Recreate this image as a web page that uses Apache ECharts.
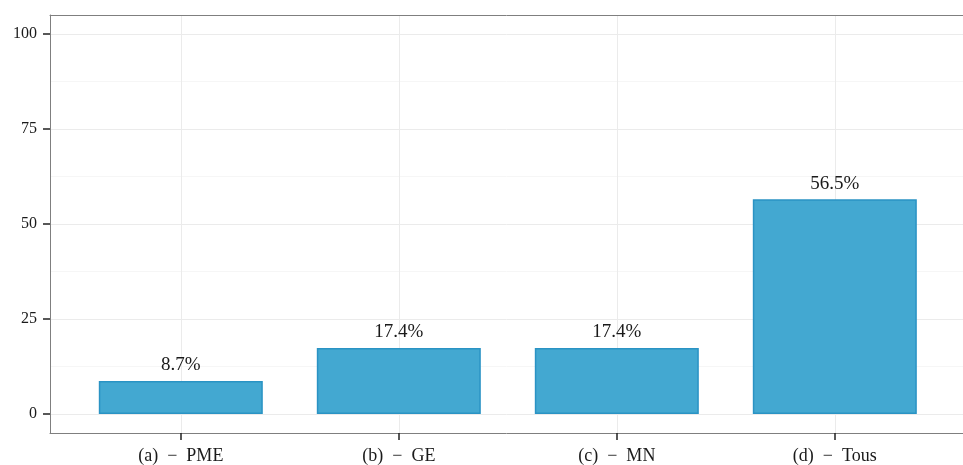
<!DOCTYPE html>
<html>
<head>
<meta charset="utf-8">
<script src="https://cdn.jsdelivr.net/npm/echarts@6/dist/echarts.min.js"></script>
<style>
html,body{margin:0;padding:0;background:#fff;}
#chart{width:963px;height:465px;}
</style>
</head>
<body>
<div id="chart"></div>
<script>
const categories = ['(a)\u2002\u2212\u2002PME', '(b)\u2002\u2212\u2002GE', '(c)\u2002\u2212\u2002MN', '(d)\u2002\u2212\u2002Tous'];
const categoryPositions = [1, 2, 3, 4];
const values = [8.7, 17.4, 17.4, 56.5];
const yTicks = [0, 25, 50, 75, 100];
const yMinorTicks = [12.5, 37.5, 62.5, 87.5];

const FONT = 'Liberation Serif';
const BORDER = '#7f7f7f';
const chart = echarts.init(document.getElementById('chart'), null, {renderer: 'canvas'});
const barData = categoryPositions.map((p, i) => [p, values[i]]);
const X_MIN = 0.4, X_MAX = 4.588;

chart.setOption({
  animation: false,
  backgroundColor: '#ffffff',
  grid: {left: 50, top: 15, right: 0, height: 419, show: false},
  xAxis: [{
    type: 'value', min: X_MIN, max: X_MAX, position: 'bottom',
    axisLine: {show: true, onZero: false, lineStyle: {color: BORDER, width: 1}},
    axisTick: {show: true, customValues: categoryPositions, length: 7, lineStyle: {color: '#222', width: 1.5}},
    axisLabel: {
      customValues: categoryPositions, margin: 14,
      formatter: v => categories[Math.round(v) - 1] || '',
      fontFamily: FONT, fontSize: 18, color: '#1a1a1a'
    },
    splitLine: {show: true, lineStyle: {color: '#ebebeb', width: 1}}
  }, {
    type: 'value', min: X_MIN, max: X_MAX, position: 'top',
    axisLine: {show: true, onZero: false, lineStyle: {color: BORDER, width: 1}},
    axisTick: {show: false}, axisLabel: {show: false}, splitLine: {show: false}
  }],
  yAxis: [{
    type: 'value', min: -5, max: 105, position: 'left',
    axisLine: {show: true, onZero: false, lineStyle: {color: BORDER, width: 1}},
    axisTick: {show: true, customValues: yTicks, length: 7, lineStyle: {color: '#222', width: 1.5}},
    axisLabel: {customValues: yTicks, margin: 13, fontFamily: FONT, fontSize: 16, color: '#1a1a1a'},
    splitLine: {show: true, lineStyle: {color: '#ebebeb', width: 1}}
  }, {
    type: 'value', min: -5, max: 105, position: 'left',
    axisLine: {show: false},
    axisTick: {show: false, customValues: yMinorTicks},
    axisLabel: {show: false, customValues: yMinorTicks},
    splitLine: {show: true, lineStyle: {color: '#f6f6f6', width: 1}}
  }],
  series: [{
    type: 'bar',
    xAxisIndex: 0, yAxisIndex: 0,
    data: barData,
    barWidth: 164,
    itemStyle: {color: '#43a8d1', borderColor: '#2a93c4', borderWidth: 1.5},
    label: {
      show: true, position: 'top', distance: 6,
      formatter: p => p.value[1] + '%',
      fontFamily: FONT, fontSize: 19, color: '#1a1a1a'
    }
  }]
});
</script>
</body>
</html>
